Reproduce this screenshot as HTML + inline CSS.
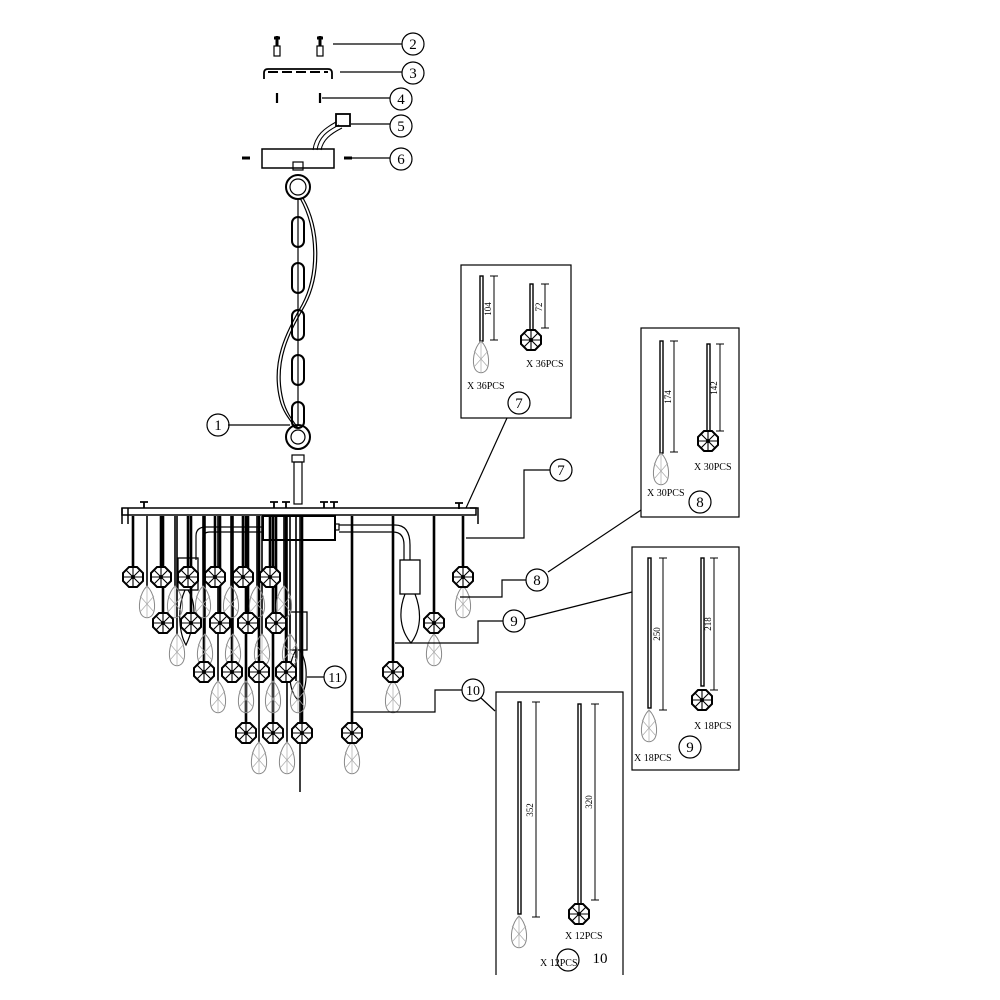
<!DOCTYPE html>
<html><head><meta charset="utf-8"><style>
html,body{margin:0;padding:0;background:#fff}
svg{display:block}
text{font-family:"Liberation Serif",serif;fill:#000}
</style></head><body>
<svg width="1000" height="1000" viewBox="0 0 1000 1000" xmlns="http://www.w3.org/2000/svg">
<defs>
<g id="oct">
<polygon points="-4,-10 4,-10 10,-4 10,4 4,10 -4,10 -10,4 -10,-4" fill="#fff" stroke="#000" stroke-width="2"/>
<path d="M-10,0H10M0,-10V10M-7,-7L7,7M-7,7L7,-7" stroke="#000" stroke-width="1.1"/>
<circle r="2" fill="#000"/>
</g>
<g id="drop">
<path d="M0,-16 C8,-8 9,6 6,12 C3,17 -3,17 -6,12 C-9,6 -8,-8 0,-16Z" fill="none" stroke="#888" stroke-width="1"/>
<path d="M0,-16V16M0,2L-7,-6M0,2L7,-6M0,2L-7,10M0,2L7,10" stroke="#aaa" stroke-width="0.7"/>
</g>
</defs>
<g fill="none" stroke="#000" stroke-width="1.2">
<!-- top parts -->
<path d="M274,38h6M317,38h6M277,36v10M320,36v10" stroke-width="3"/>
<rect x="274" y="46" width="6" height="10"/><rect x="317" y="46" width="6" height="10"/>
<line x1="333" y1="44" x2="402" y2="44"/>
<circle cx="413" cy="44" r="11"/>
<path d="M264,79 v-6 q0,-4 4,-4 h60 q4,0 4,4 v6" stroke-width="1.8"/>
<path d="M268,72h60" stroke-width="2" stroke-dasharray="10,4"/>
<line x1="340" y1="72" x2="402" y2="72"/>
<circle cx="413" cy="73" r="11"/>
<path d="M277,93v10M320,93v10" stroke-width="2.2"/>
<line x1="322" y1="98" x2="390" y2="98"/>
<circle cx="401" cy="99" r="11"/>
<path d="M313,150 C315,135 325,128 336,122M317,150 C319,137 327,131 339,125M321,150C323,140 330,134 342,128" stroke-width="1"/>
<rect x="336" y="114" width="14" height="12" stroke-width="1.8"/>
<line x1="351" y1="124" x2="390" y2="124"/>
<circle cx="401" cy="126" r="11"/>
<rect x="262" y="149" width="72" height="19" stroke-width="1.5"/>
<path d="M242,158h8M344,158h8" stroke-width="3"/>
<line x1="352" y1="158" x2="390" y2="158"/>
<circle cx="401" cy="159" r="11"/>
<!-- chain -->
<rect x="293" y="162" width="10" height="8"/>
<circle cx="298" cy="187" r="12" stroke-width="2"/><circle cx="298" cy="187" r="8"/>
<rect x="292" y="217" width="12" height="30" rx="6" stroke-width="2"/>
<rect x="292" y="263" width="12" height="30" rx="6" stroke-width="2"/>
<rect x="292" y="310" width="12" height="30" rx="6" stroke-width="2"/>
<rect x="292" y="355" width="12" height="30" rx="6" stroke-width="2"/>
<rect x="292" y="402" width="12" height="26" rx="6" stroke-width="2"/>
<line x1="298" y1="199" x2="298" y2="425"/>
<path d="M300,198 C318,230 318,275 302,305 C288,330 270,360 280,400 C283,412 290,420 296,428" stroke-width="1.2"/>
<path d="M303,198 C321,230 321,275 305,305 C291,330 273,360 283,400 C286,412 292,420 298,428" stroke-width="1.2"/>
<circle cx="298" cy="437" r="12" stroke-width="2"/><circle cx="298" cy="437" r="7"/>
<line x1="228" y1="425" x2="290" y2="425"/>
<circle cx="218" cy="425" r="11"/>
<rect x="292" y="455" width="12" height="7"/>
<rect x="294" y="462" width="8" height="42"/>
<!-- bar -->
<rect x="122" y="508" width="354" height="7" stroke-width="1.5"/>
<path d="M122,508 v16 M470,508 h8 v16 M128,508v16" stroke-width="1.5"/>
<path d="M140,502h8M144,502v6M320,502h8M324,502v6M330,502h8M334,502v6M270,502h8M274,502v6M282,502h8M286,502v6M455,503h8M459,503v6" stroke-width="1.8"/>
<rect x="263" y="516" width="72" height="24" stroke-width="2"/>
<rect x="335" y="524" width="4" height="6"/>
<!-- lamp sockets -->
<path d="M196,560 V536 Q196,527 206,527 H262 M203,560 V538 Q203,532 210,532 H262" />
<rect x="178" y="558" width="20" height="32" stroke-width="1.3"/>
<path d="M185,590 C176,610 180,635 186,645 C194,628 198,605 188,590"/>
<path d="M339,525 H395 Q410,525 410,545 V560 M339,532 H393 Q404,532 404,545 V560"/>
<rect x="400" y="560" width="20" height="34" stroke-width="1.3"/>
<path d="M405,594 C398,612 400,630 411,643 C421,630 422,612 415,594"/>
<rect x="290" y="612" width="17" height="38" stroke-width="1.3"/>
<path d="M296,650 C287,665 288,690 298,700 C308,690 309,665 300,650"/>
<line x1="300" y1="515" x2="300" y2="792" stroke-width="1.5"/>
<line x1="307" y1="677" x2="324" y2="677"/>
<circle cx="335" cy="677" r="11"/>
</g>
<!-- rods -->
<g stroke="#000" stroke-width="2.6">
<path d="M133,516V567M161,516V567M188,516V567M215,516V567M243,516V567M270,516V567M463,516V567"/>
<path d="M163,516V613M191,516V613M220,516V613M248,516V613M276,516V613M434,516V613"/>
<path d="M204,516V662M232,516V662M259,516V662M286,516V662M393,516V662"/>
<path d="M246,516V723M273,516V723M302,516V723M352,516V723"/>
</g>
<g stroke="#000" stroke-width="1.6">
<path d="M147,516V586M175,516V586M203,516V586M231,516V586M257,516V586M284,516V586"/>
<path d="M177,516V634M205,516V634M233,516V634M262,516V634M290,516V634"/>
<path d="M218,516V681M246,516V681M273,516V681M296,516V681"/>
<path d="M259,516V742M287,516V742"/>
</g>
<!-- drops -->
<g>
<use href="#drop" x="147" y="602"/><use href="#drop" x="175" y="602"/><use href="#drop" x="203" y="602"/><use href="#drop" x="231" y="602"/><use href="#drop" x="257" y="602"/><use href="#drop" x="284" y="602"/><use href="#drop" x="463" y="602"/>
<use href="#drop" x="177" y="650"/><use href="#drop" x="205" y="650"/><use href="#drop" x="233" y="650"/><use href="#drop" x="262" y="650"/><use href="#drop" x="290" y="650"/><use href="#drop" x="434" y="650"/>
<use href="#drop" x="218" y="697"/><use href="#drop" x="246" y="697"/><use href="#drop" x="273" y="697"/><use href="#drop" x="298" y="697"/><use href="#drop" x="393" y="697"/>
<use href="#drop" x="259" y="758"/><use href="#drop" x="287" y="758"/><use href="#drop" x="352" y="758"/>
</g>
<g>
<use href="#oct" x="133" y="577"/><use href="#oct" x="161" y="577"/><use href="#oct" x="188" y="577"/><use href="#oct" x="215" y="577"/><use href="#oct" x="243" y="577"/><use href="#oct" x="270" y="577"/><use href="#oct" x="463" y="577"/>
<use href="#oct" x="163" y="623"/><use href="#oct" x="191" y="623"/><use href="#oct" x="220" y="623"/><use href="#oct" x="248" y="623"/><use href="#oct" x="276" y="623"/><use href="#oct" x="434" y="623"/>
<use href="#oct" x="204" y="672"/><use href="#oct" x="232" y="672"/><use href="#oct" x="259" y="672"/><use href="#oct" x="286" y="672"/><use href="#oct" x="393" y="672"/>
<use href="#oct" x="246" y="733"/><use href="#oct" x="273" y="733"/><use href="#oct" x="302" y="733"/><use href="#oct" x="352" y="733"/>
</g>
<!-- leaders -->
<g fill="none" stroke="#000" stroke-width="1.2">
<path d="M550,470H524V538H466"/>
<circle cx="561" cy="470" r="11"/>
<path d="M526,580H502V597H460"/>
<circle cx="537" cy="580" r="11"/>
<path d="M503,621H478V643H395"/>
<circle cx="514" cy="621" r="11"/>
<path d="M462,690H435V712H353"/>
<circle cx="473" cy="690" r="11"/>
<line x1="507" y1="418" x2="466" y2="508"/>
<line x1="548" y1="572" x2="641" y2="510"/>
<line x1="525" y1="619" x2="632" y2="592"/>
<line x1="481" y1="698" x2="495" y2="711"/>
<!-- boxes -->
<rect x="461" y="265" width="110" height="153"/>
<rect x="641" y="328" width="98" height="189"/>
<rect x="632" y="547" width="107" height="223"/>
<path d="M496,975V692H623V975"/>
<circle cx="519" cy="403" r="11"/>
<circle cx="700" cy="502" r="11"/>
<circle cx="690" cy="747" r="11"/>
<circle cx="568" cy="960" r="11"/>
</g>
<!-- box contents -->
<g stroke="#000" fill="none" stroke-width="1">
<rect x="480" y="276" width="3" height="65" stroke-width="1.4"/><path d="M494,276V340M490,276h8M490,340h8"/>
<rect x="530" y="284" width="3" height="48" stroke-width="1.4"/><path d="M545,284V328M541,284h8M541,328h8"/>
<rect x="660" y="341" width="3" height="112" stroke-width="1.4"/><path d="M674,341V452M670,341h8M670,452h8"/>
<rect x="707" y="344" width="3" height="87" stroke-width="1.4"/><path d="M720,344V431M716,344h8M716,431h8"/>
<rect x="648" y="558" width="3" height="150" stroke-width="1.4"/><path d="M663,558V710M659,558h8M659,710h8"/>
<rect x="701" y="558" width="3" height="128" stroke-width="1.4"/><path d="M714,558V690M710,558h8M710,690h8"/>
<rect x="518" y="702" width="3" height="212" stroke-width="1.4"/><path d="M536,702V917M532,702h8M532,917h8"/>
<rect x="578" y="704" width="3" height="200" stroke-width="1.4"/><path d="M595,704V900M591,704h8M591,900h8"/>
</g>
<use href="#drop" x="481" y="357"/><use href="#oct" x="531" y="340"/>
<use href="#drop" x="661" y="469"/><use href="#oct" x="708" y="441"/>
<use href="#drop" x="649" y="726"/><use href="#oct" x="702" y="700"/>
<use href="#drop" x="519" y="932"/><use href="#oct" x="579" y="914"/>
<g font-size="9" text-anchor="middle">
<text transform="translate(491,309) rotate(-90)">104</text>
<text transform="translate(542,307) rotate(-90)">72</text>
<text transform="translate(671,397) rotate(-90)">174</text>
<text transform="translate(717,388) rotate(-90)">142</text>
<text transform="translate(660,634) rotate(-90)">250</text>
<text transform="translate(711,624) rotate(-90)">218</text>
<text transform="translate(533,810) rotate(-90)">352</text>
<text transform="translate(592,802) rotate(-90)">320</text>
</g>
<g font-size="10">
<text x="467" y="389">X 36PCS</text>
<text x="526" y="367">X 36PCS</text>
<text x="647" y="496">X 30PCS</text>
<text x="694" y="470">X 30PCS</text>
<text x="634" y="761">X 18PCS</text>
<text x="694" y="729">X 18PCS</text>
<text x="565" y="939">X 12PCS</text>
<text x="540" y="966">X 12PCS</text>
</g>
<g font-size="15" text-anchor="middle">
<text x="413" y="49">2</text><text x="413" y="78">3</text><text x="401" y="104">4</text><text x="401" y="131">5</text><text x="401" y="164">6</text>
<text x="218" y="430">1</text><text x="561" y="475">7</text><text x="519" y="408">7</text>
<text x="537" y="585">8</text><text x="700" y="507">8</text><text x="514" y="626">9</text><text x="690" y="752">9</text>
<text x="473" y="695" font-size="14">10</text><text x="335" y="682" font-size="14">11</text>
<text x="600" y="963" font-size="15">10</text>
</g>
</svg>
</body></html>
